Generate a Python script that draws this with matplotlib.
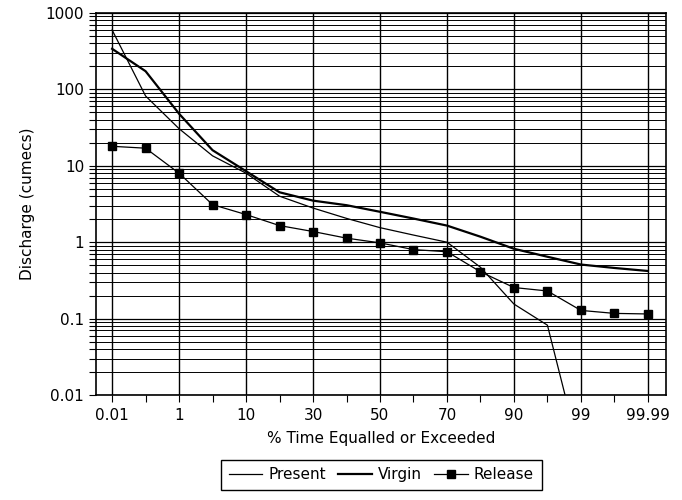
import matplotlib
matplotlib.use("Agg")
import matplotlib.pyplot as plt
from matplotlib.ticker import FixedLocator, LogLocator, NullFormatter
import numpy as np

# % time equalled or exceeded (probability categories, equally spaced)
pct_time = ["0.01", "0.1", "1", "5", "10", "20", "30", "40", "50", "60",
            "70", "80", "90", "95", "99", "99.9", "99.99"]
labelled = ["0.01", "1", "10", "30", "50", "70", "90", "99", "99.99"]

present = [600, 82, 30.6, 13.5, 8.0, 4.0, 2.8, 2.05, 1.55, 1.24,
           1.0, 0.47, 0.155, 0.082, 0.0015]
virgin = [340, 173, 48, 16, 8.5, 4.5, 3.5, 3.05, 2.5, 2.04,
          1.65, 1.18, 0.82, 0.645, 0.51, 0.46, 0.42]
release = [18, 17, 8, 3.1, 2.3, 1.65, 1.38, 1.13, 0.98, 0.8,
           0.75, 0.41, 0.255, 0.23, 0.128, 0.117, 0.115]

ytick_vals = [0.01, 0.1, 1, 10, 100, 1000]
ytick_text = ["0.01", "0.1", "1", "10", "100", "1000"]

plt.rcParams["font.family"] = "DejaVu Sans"

fig = plt.figure(figsize=(6.82, 5.0), dpi=100)
ax = fig.add_axes([0.1408, 0.21, 0.8357, 0.764])

x = np.arange(len(pct_time))
ax.plot(x[:len(present)], present, color="black", lw=0.9, label="Present")
ax.plot(x, virgin, color="black", lw=1.6, label="Virgin")
ax.plot(x, release, color="black", lw=0.9, marker="s", markersize=6,
        label="Release")

ax.set_yscale("log")
ax.set_ylim(0.01, 1000)
ax.set_xlim(-0.48, 16.54)

ax.set_yticks(ytick_vals)
ax.set_yticklabels(ytick_text, fontsize=11)
ax.yaxis.set_minor_locator(LogLocator(base=10, subs=np.arange(2, 10)))
ax.yaxis.set_minor_formatter(NullFormatter())

lab_pos = [pct_time.index(l) for l in labelled]
ax.set_xticks(lab_pos)
ax.set_xticklabels(labelled, fontsize=11)
ax.xaxis.set_minor_locator(FixedLocator([i for i in x if i not in lab_pos]))

ax.tick_params(which="both", direction="out", length=5, width=0.8, colors="black")
ax.tick_params(axis="x", which="major", pad=4)

ax.grid(True, axis="y", which="major", color="black", lw=0.9)
ax.grid(True, axis="y", which="minor", color="black", lw=0.7)
ax.grid(True, axis="x", which="major", color="black", lw=1.0)
for s in ax.spines.values():
    s.set_linewidth(1.2)

ax.set_xlabel("% Time Equalled or Exceeded", fontsize=11, labelpad=6)
ax.set_ylabel("Discharge (cumecs)", fontsize=11, labelpad=8)

leg = fig.legend(loc="lower center", bbox_to_anchor=(0.559, 0.005), ncol=3,
                 fontsize=11, fancybox=False, edgecolor="black", framealpha=1,
                 handlelength=2.2, columnspacing=0.8, handletextpad=0.4,
                 borderpad=0.5)
leg.get_frame().set_linewidth(1.0)

fig.savefig("out.png", dpi=100)
